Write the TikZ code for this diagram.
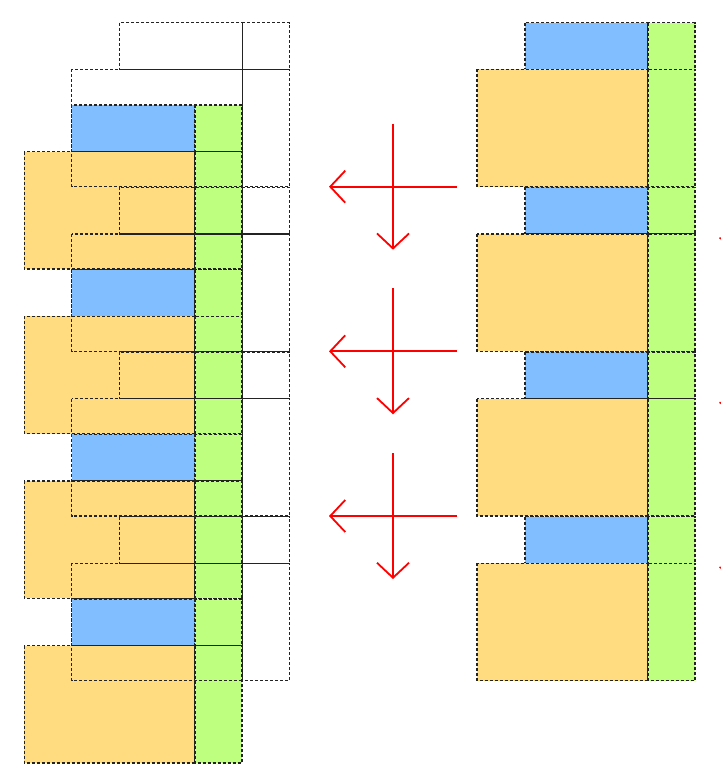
\documentclass[tikz,border=0pt]{standalone}
\usetikzlibrary{arrows.meta}

\definecolor{blau}{RGB}{128,190,255}
\definecolor{gelb}{RGB}{255,220,128}
\definecolor{gruen}{RGB}{190,255,128}
\definecolor{rand}{RGB}{35,35,35}

\begin{document}
\begin{tikzpicture}[x=1pt,y=-1pt,
		kante/.style={draw=rand,line width=1.2pt,dash pattern=on 3pt off 2pt},
		pfeil/.style={red,line width=1.8pt,-{Straight Barb[length=15pt,width=32pt]}}]
		
		\useasboundingbox (0,0) rectangle (720,776);
		
		% Rechte Figur (Ausgangslage)
		\begin{scope}[shift={(477,22.7)}]
		\foreach \o in {0,164.67,329.33,494} {
			\draw[kante,fill=blau] (48,\o) rectangle ++(123,46.67);
			\draw[kante,fill=gruen] (171,\o) rectangle ++(47,46.67);
			\draw[kante,fill=gelb] (0,\o+46.67) rectangle ++(171,117.33);
			\draw[kante,fill=gruen] (171,\o+46.67) rectangle ++(47,117.33);
		}
		\end{scope}
		
		% Linke Figur (verschoben)
		\begin{scope}[shift={(24.3,105)}]
		\foreach \o in {0,164.67,329.33,494} {
			\draw[kante,fill=blau] (47.4,\o) rectangle ++(123.3,46.67);
			\draw[kante,fill=gruen] (170.7,\o) rectangle ++(47,46.67);
			\draw[kante,fill=gelb] (0,\o+46.67) rectangle ++(170.7,117.33);
			\draw[kante,fill=gruen] (170.7,\o+46.67) rectangle ++(47,117.33);
		}
		\end{scope}
		
		% Umriss der alten Lage
		\begin{scope}[shift={(71.7,22.7)}]
		\foreach \o in {0,164.67,329.33,494} {
			\draw[kante] (47.4,\o) rectangle ++(123.3,46.67);
			\draw[kante] (170.7,\o) rectangle ++(47,46.67);
			\draw[kante] (0,\o+46.67) rectangle ++(170.7,117.33);
			\draw[kante] (170.7,\o+46.67) rectangle ++(47,117.33);
		}
		\end{scope}
		
		% Verschiebungspfeile
		\foreach \m in {186.7,351.3,516} {
			\draw[pfeil] (457,\m) -- (329,\m);
			\draw[pfeil] (393,\m-63) -- (393,\m+63);
			\draw[red,line width=1.5pt] (719.5,\m+51) -- (724,\m+54);
		}
		
	\end{tikzpicture}
\end{document}
